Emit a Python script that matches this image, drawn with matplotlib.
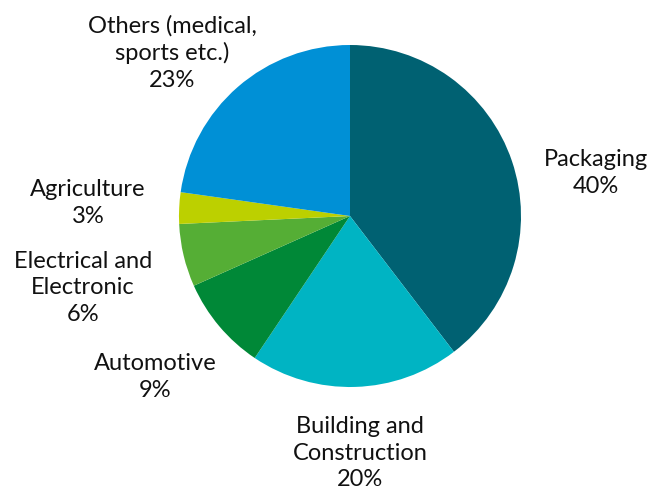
import matplotlib
matplotlib.use('Agg')
import matplotlib.pyplot as plt

labels = ['Packaging', 'Building and\nConstruction', 'Automotive',
          'Electrical and\nElectronic', 'Agriculture', 'Others (medical,\nsports etc.)']
shares = [40, 20, 9, 6, 3, 23]
colors = ['#006172', '#00b4c3', '#008837', '#55ae35', '#bcd000', '#0090d6']

# label centres in pixel coordinates of the 663x493 picture
label_px = [(596, 173), (360, 453), (155, 377), (83, 288), (88, 203), (172, 53)]

W, H = 663, 493
cx, cy, r = 350, 216, 171

plt.rcParams['font.family'] = ['Lato', 'DejaVu Sans']
fig = plt.figure(figsize=(W / 100, H / 100), dpi=100)
ax = fig.add_axes([(cx - r) / W, (H - cy - r) / H, 2 * r / W, 2 * r / H])
ax.pie(shares, colors=colors, startangle=90, counterclock=False,
       wedgeprops={'linewidth': 0})
ax.set_xlim(-1, 1)
ax.set_ylim(-1, 1)
ax.set_aspect('equal')

for lab, val, (px, py) in zip(labels, shares, label_px):
    fig.text(px / W, 1 - py / H, '%s\n%d%%' % (lab, val), ha='center', va='center',
             fontsize=17, linespacing=1.32, color='#111111')

fig.savefig('out.png', dpi=100)
